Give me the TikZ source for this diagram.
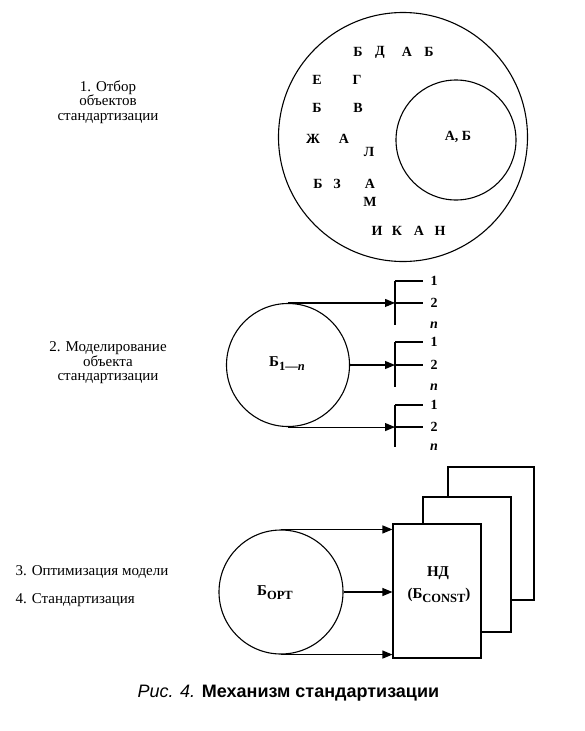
\documentclass[tikz,border=0pt]{standalone}
\usepackage{fontspec}
\setmainfont{Liberation Serif}
\newfontfamily\capfont{Liberation Sans}
\usetikzlibrary{arrows.meta}
\newcommand{\mysub}[1]{\raisebox{-4pt}{\fontsize{12.5}{13}\selectfont #1}}
\begin{document}
\begin{tikzpicture}[x=1pt,y=-1pt, line width=1.1pt,
  lbl/.style={font=\fontsize{15}{14.5}\selectfont, align=center, inner sep=0},
  ltr/.style={font=\fontsize{14}{16}\selectfont\bfseries, inner sep=0},
  big/.style={font=\fontsize{15}{16}\selectfont\bfseries, inner sep=0},
  arr/.style={-{Triangle[length=10pt,width=8pt]}},
  num/.style={font=\fontsize{14}{14}\selectfont\bfseries, inner sep=0},
  ring/.style={circle, draw, inner sep=0},
  sheet/.style={draw, fill=white, inner sep=0}]
\useasboundingbox (0,0) rectangle (584,731);

% ---------- 1 ----------
\node[lbl] (lab1) at (108,102) {1. Отбор\\объектов\\стандартизации};
\node[ring, minimum size=249pt] (big) at (403,137) {};
\node[ring, minimum size=120pt] (small) at (456,140) {};
\node[ltr] (ab) at (458,137) {А, Б};
\node[ltr] (k1) at (358,52) {Б};
\node[ltr] (k2) at (380,52) {Д};
\node[ltr] (k3) at (407,52) {А};
\node[ltr] (k4) at (429,52) {Б};
\node[ltr] (k5) at (317,80) {Е};
\node[ltr] (k6) at (357,80) {Г};
\node[ltr] (k7) at (317,108) {Б};
\node[ltr] (k8) at (358,108) {В};
\node[ltr] (k9) at (313,139) {Ж};
\node[ltr] (k10) at (344,139) {А};
\node[ltr] (k11) at (369,152) {Л};
\node[ltr] (k12) at (318,184) {Б};
\node[ltr] (k13) at (337,184) {З};
\node[ltr] (k14) at (370,184) {А};
\node[ltr] (k15) at (370,202) {М};
\node[ltr] (k16) at (377,231) {И};
\node[ltr] (k17) at (397,231) {К};
\node[ltr] (k18) at (419,231) {А};
\node[ltr] (k19) at (440,231) {Н};

% ---------- 2 ----------
\node[lbl] (lab2) at (108,363) {2. Моделирование\\объекта\\стандартизации};
\node[ring, minimum size=123pt] (c2) at (288,365) {};
\node[big] (b1n) at (287,364) {Б\mysub{1—\textit{n}}};

\foreach \i/\yt/\ym/\yb in {1/281/303/325, 2/342/365/387, 3/405/427/447}{
  \coordinate (t\i) at (395,\yt);
  \coordinate (m\i) at (395,\ym);
  \coordinate (e\i) at (395,\yb);
  \coordinate (tr\i) at (423,\yt);
  \coordinate (mr\i) at (423,\ym);
  \draw (t\i) -- (e\i);
  \draw (t\i) -- (tr\i);
  \draw (m\i) -- (mr\i);
  \node[num] (one\i) at (434,\yt) {1};
  \node[num] (two\i) at (434,\ym) {2};
  \node[num] (enn\i) at (434,\yb) {\textit{n}};
}
\draw[arr] (c2.north) -- (c2.north -| m1);
\draw[arr] (c2.east) -- (c2.east -| m2);
\draw[arr] (c2.south) -- (c2.south -| m3);

% ---------- 3, 4 ----------
\node[lbl, anchor=west] (lab3) at (15,572) {3. Оптимизация модели};
\node[lbl, anchor=west] (lab4) at (15,600) {4. Стандартизация};
\node[ring, minimum size=124pt] (c3) at (281,592) {};
\node[big] (bopt) at (275,593) {Б\mysub{OPT}};
\node[sheet, minimum width=86pt, minimum height=133pt] (s3) at (491,533.5) {};
\node[sheet, minimum width=88pt, minimum height=135pt] (s2) at (467,564.5) {};
\node[sheet, minimum width=88pt, minimum height=134pt] (nd) at (437,591) {};
\node[big] (ndt1) at (438,573) {НД};
\node[big] (ndt2) at (439,595) {(Б\mysub{CONST})};
\draw[arr] (c3.north) -- (nd.west |- c3.north);
\draw[arr] (c3.east) -- (nd.west |- c3.east);
\draw[arr] (c3.south) -- (nd.west |- c3.south);

% ---------- caption ----------
\node[font=\capfont\fontsize{18}{20}\selectfont, anchor=west, inner sep=0] (cap) at (137,693)
  {\textit{Рис. 4.} \textbf{Механизм стандартизации}};
\end{tikzpicture}
\end{document}
